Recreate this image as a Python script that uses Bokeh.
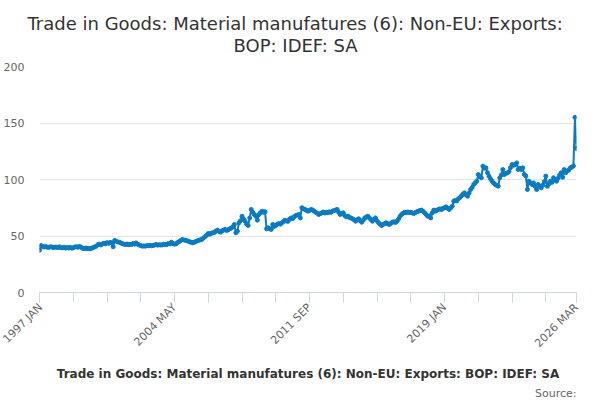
import math
from bokeh.plotting import figure
from bokeh.models import FixedTicker, Title, Range1d, ColumnDataSource
from bokeh.embed import file_html
from bokeh.resources import INLINE

# ---------------- data ----------------
title_lines = ["Trade in Goods: Material manufatures (6): Non-EU: Exports:",
               "BOP: IDEF: SA"]
series_name = "Trade in Goods: Material manufatures (6): Non-EU: Exports: BOP: IDEF: SA"
source_text = "Source:"

start_year = 1997
month_names = ["JAN", "FEB", "MAR", "APR", "MAY", "JUN",
               "JUL", "AUG", "SEP", "OCT", "NOV", "DEC"]

values = [
    # 1997
    37.4, 41.5, 40.6, 40.2, 40.8, 40.1, 39.9, 40.5, 40.3, 39.7, 40.2, 40.0,
    # 1998
    39.8, 40.4, 39.6, 39.5, 40.1, 39.3, 39.8, 39.4, 39.9, 39.2, 39.6, 40.3,
    # 1999
    40.5, 40.0, 40.8, 40.2, 39.1, 38.9, 39.3, 38.7, 39.0, 38.6, 39.2, 39.8,
    # 2000
    40.4, 41.0, 42.3, 42.8, 42.1, 43.0, 43.6, 43.2, 44.1, 43.5, 44.3, 44.0,
    # 2001
    40.4, 46.1, 45.3, 44.8, 44.5, 43.9, 43.2, 42.8, 42.4, 42.9, 42.3, 42.6,
    # 2002
    42.5, 43.4, 42.8, 43.9, 42.7, 42.0, 41.6, 41.0, 41.2, 41.0, 41.5, 41.3,
    # 2003
    41.8, 41.4, 41.6, 42.0, 42.5, 41.9, 42.3, 42.0, 42.2, 42.7, 42.4, 42.5,
    # 2004
    43.4, 43.0, 44.5, 43.2, 42.8, 43.1, 44.2, 45.0, 46.0, 46.9, 46.5, 46.2,
    # 2005
    45.8, 45.4, 44.8, 44.4, 44.0, 44.6, 45.2, 45.8, 46.3, 46.6, 47.2, 48.4,
    # 2006
    49.5, 50.8, 52.2, 51.6, 52.5, 52.8, 53.2, 54.4, 55.2, 54.0, 53.4, 54.6,
    # 2007
    55.2, 55.8, 54.9, 55.6, 56.4, 57.0, 58.1, 60.2, 52.8, 54.3, 61.7, 63.5,
    # 2008
    67.5, 65.0, 63.0, 60.5, 59.3, 66.0, 73.5, 71.0, 69.0, 67.5, 64.0, 69.0,
    # 2009
    70.5, 72.0, 71.0, 71.5, 56.4, 57.2, 56.5, 55.8, 60.2, 58.5, 59.3, 60.5,
    # 2010
    61.0, 60.4, 61.7, 62.8, 64.0, 63.2, 63.0, 65.0, 66.0, 65.4, 67.0, 68.1,
    # 2011
    68.5, 69.0, 66.0, 75.0, 74.2, 73.5, 72.8, 72.0, 72.6, 73.5, 73.0, 72.0,
    # 2012
    71.0, 70.2, 69.0, 69.8, 70.5, 71.2, 70.4, 71.0, 70.6, 71.4, 71.0, 72.0,
    # 2013
    72.5, 73.0, 73.5, 71.0, 69.0, 70.0, 70.5, 68.0, 67.0, 67.6, 66.4, 66.0,
    # 2014
    65.2, 64.5, 63.1, 64.3, 65.2, 63.6, 62.2, 64.0, 66.0, 66.8, 67.5, 66.0,
    # 2015
    64.5, 63.1, 64.8, 66.0, 63.5, 61.7, 60.5, 59.3, 60.2, 61.0, 61.7, 60.8,
    # 2016
    60.2, 61.2, 62.2, 62.6, 62.0, 63.1, 65.0, 67.5, 69.0, 70.2, 71.0, 70.6,
    # 2017
    71.2, 70.8, 71.0, 70.4, 69.9, 70.8, 71.5, 72.0, 72.5, 72.9, 71.8, 70.5,
    # 2018
    69.0, 67.5, 67.8, 66.0, 70.5, 72.9, 72.0, 72.8, 73.5, 74.0, 73.4, 74.5,
    # 2019
    75.0, 75.8, 74.6, 73.5, 74.8, 76.4, 80.8, 81.5, 81.0, 82.9, 84.0, 85.5,
    # 2020
    87.0, 88.2, 86.5, 85.2, 88.0, 91.2, 93.0, 95.6, 97.0, 98.5, 104.4, 102.5,
    # 2021
    101.5, 111.8, 110.0, 110.3, 106.0, 102.9, 100.5, 98.5, 96.8, 95.6, 94.8, 94.1,
    # 2022
    101.5, 104.0, 108.8, 104.4, 105.5, 105.9, 107.0, 110.5, 113.3, 112.6, 113.3, 114.7,
    # 2023
    108.8, 110.0, 108.8, 110.3, 104.4, 103.0, 91.2, 98.5, 97.0, 95.6, 97.0, 94.0,
    # 2024
    91.2, 95.6, 94.0, 92.6, 95.0, 98.0, 103.0, 94.0, 96.0, 98.5, 97.5, 101.5,
    # 2025
    100.0, 98.5, 101.0, 104.0, 106.0, 102.0, 108.8, 106.0, 107.4, 108.5, 110.3, 111.0,
    # 2026
    112.0, 155.0, 127.5,
]

categories = ["%d %s" % (start_year + i // 12, month_names[i % 12])
              for i in range(len(values))]
labelled_ticks = [0, 88, 176, 264, 350]
minor_tick_idx = [22, 44, 66, 110, 132, 154, 198, 220, 242, 286, 308, 330]
y_ticks = [0, 50, 100, 150, 200]

# ---------------- chart ----------------
COL = "#0b7bc1"
FONT = "DejaVu Sans"

xs = list(range(len(values)))
src = ColumnDataSource(dict(x=xs, y=values, cat=categories))

p = figure(frame_width=537, frame_height=226, output_backend="svg",
           toolbar_location=None,
           x_range=Range1d(0, len(values) - 1), y_range=Range1d(0, 200),
           min_border_left=38, min_border_right=9, min_border_top=0,
           min_border_bottom=0)
p.outline_line_color = None

ln = p.line("x", "y", source=src, line_width=2, line_color=COL)
sc = p.scatter("x", "y", source=src, size=4, fill_color=COL, line_color=COL)

xa = p.xaxis[0]
xa.ticker = FixedTicker(ticks=labelled_ticks, minor_ticks=minor_tick_idx)
xa.major_label_overrides = {t: categories[t] for t in labelled_ticks}
xa.major_label_orientation = math.pi / 4
xa.axis_line_color = "#ccd6eb"
xa.major_tick_line_color = "#ccd6eb"
xa.minor_tick_line_color = "#ccd6eb"
xa.major_tick_in = 0
xa.major_tick_out = 10
xa.minor_tick_in = 0
xa.minor_tick_out = 10
xa.major_label_text_font = FONT
xa.major_label_text_font_size = "11px"
xa.major_label_text_color = "#666666"
xa.major_label_standoff = 3
# series key text below the axis labels
xa.axis_label = series_name
xa.axis_label_text_font = FONT
xa.axis_label_text_font_size = "12px"
xa.axis_label_text_font_style = "bold"
xa.axis_label_text_color = "#333333"
xa.axis_label_standoff = 10

ya = p.yaxis[0]
ya.ticker = FixedTicker(ticks=y_ticks)
ya.axis_line_color = None
ya.major_tick_line_color = None
ya.minor_tick_line_color = None
ya.major_label_text_font = FONT
ya.major_label_text_font_size = "11px"
ya.major_label_text_color = "#666666"
ya.major_label_standoff = 9

p.xgrid.grid_line_color = None
p.ygrid.ticker = FixedTicker(ticks=y_ticks)
p.ygrid.grid_line_color = "#e6e6e6"

# two-line title in one box; second line indented with no-break spaces
title_text = title_lines[0] + "\n" + "\u00a0" * 36 + title_lines[1]
p.add_layout(Title(text=title_text, align="left", offset=-12,
                   text_font=FONT, text_font_size="18px",
                   text_color="#333333", text_font_style="normal",
                   text_line_height=1.05, standoff=21), "above")

p.add_layout(Title(text=source_text, align="right", text_font=FONT,
                   text_font_size="11px", text_color="#666666",
                   text_font_style="normal", standoff=0), "below")

open("out.html", "w").write(file_html(p, INLINE))
